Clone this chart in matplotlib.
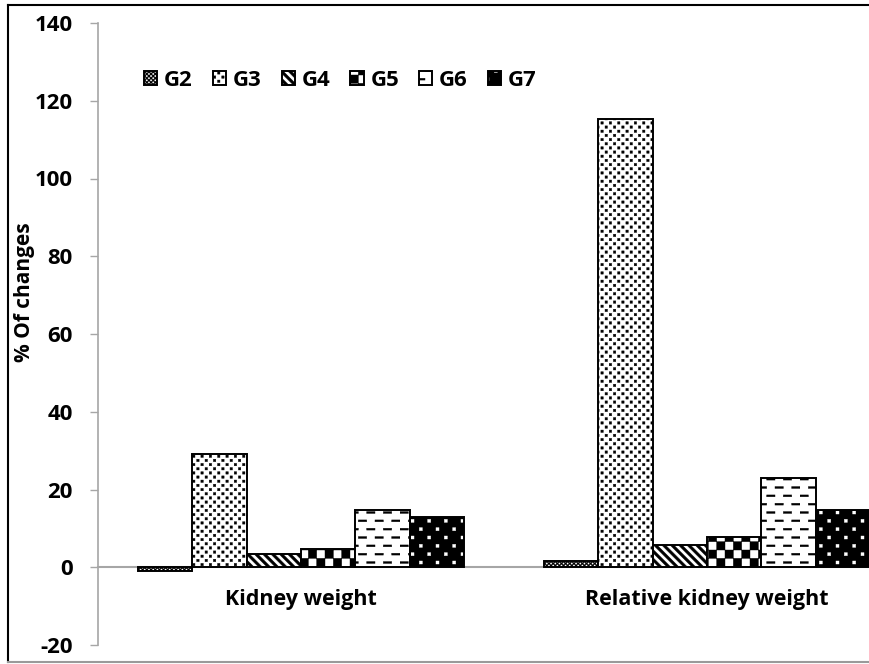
import warnings
import numpy as np
import matplotlib
matplotlib.use("Agg")
import matplotlib.pyplot as plt
import matplotlib.hatch as mhatch
from matplotlib.path import Path
from matplotlib.patches import Patch
from matplotlib.lines import Line2D
from matplotlib.legend_handler import HandlerTuple

warnings.filterwarnings("ignore")

# ---- data -------------------------------------------------------------
categories = ["Kidney weight", "Relative kidney weight"]
groups = ["G2", "G3", "G4", "G5", "G6", "G7"]
g2 = [-1.0, 1.5]
g3 = [29.1, 115.3]
g4 = [3.3, 5.6]
g5 = [4.6, 7.7]
g6 = [14.7, 22.9]
g7 = [12.9, 14.7]
yticks = [-20, 0, 20, 40, 60, 80, 100, 120, 140]


# ---- extra fill patterns (filled shapes in the unit hatch tile) -------
def _quad(vertices, codes, k, pts):
    vertices[k:k + 5] = list(pts) + [pts[0]]
    codes[k:k + 5] = [Path.MOVETO, Path.LINETO, Path.LINETO,
                      Path.LINETO, Path.CLOSEPOLY]
    return k + 5


def _rect(vertices, codes, k, x0, y0, x1, y1):
    return _quad(vertices, codes, k, [(x0, y0), (x1, y0), (x1, y1), (x0, y1)])


class CheckerHatch(mhatch.HatchPatternBase):
    """'k': checkerboard, 12 cells per tile side per letter."""
    def __init__(self, hatch, density):
        self.n = 12 * hatch.count("k")
        self.num_vertices = 5 * (self.n * self.n // 2)

    def set_vertices_and_codes(self, vertices, codes):
        s = 1.0 / self.n
        k = 0
        for i in range(self.n):
            for j in range(self.n):
                if (i + j) % 2 == 0:
                    k = _rect(vertices, codes, k, i * s, j * s,
                              (i + 1) * s, (j + 1) * s)


class DotHatch(mhatch.HatchPatternBase):
    """'d': staggered square dots."""
    def __init__(self, hatch, density):
        c = hatch.count("d")
        self.cols = 6 * c
        self.rows = 2 * self.cols
        self.size = 0.018 + 0.012 / c if c else 0
        self.num_vertices = 5 * self.cols * self.rows

    def set_vertices_and_codes(self, vertices, codes):
        k = 0
        h = self.size / 2
        for r in range(self.rows):
            cy = (r + 0.5) / self.rows
            for i in range(self.cols):
                cx = (i + 0.25 + 0.5 * (r % 2)) / self.cols
                k = _rect(vertices, codes, k, cx - h, cy - h, cx + h, cy + h)


class DashHatch(mhatch.HatchPatternBase):
    """'m': staggered rows of short horizontal dashes."""
    def __init__(self, hatch, density):
        c = hatch.count("m")
        self.rows = 12 * c
        self.per_row = 6 * c
        self.num_vertices = 5 * self.rows * self.per_row

    def set_vertices_and_codes(self, vertices, codes):
        k = 0
        p = 1.0 / self.per_row
        t = 0.009
        for r in range(self.rows):
            cy = (r + 0.5) / self.rows
            off = 0.5 * p * (r % 2)
            for i in range(self.per_row):
                x0 = i * p + off
                k = _rect(vertices, codes, k, x0, cy - t, x0 + 0.5 * p, cy + t)


class StripeHatch(mhatch.HatchPatternBase):
    """'z': thick diagonal stripes running top-left to bottom-right."""
    def __init__(self, hatch, density):
        c = hatch.count("z")
        self.n = 12 * c
        self.num_vertices = 5 * 2 * self.n

    def set_vertices_and_codes(self, vertices, codes):
        k = 0
        w = 0.45 / self.n
        for j in range(2 * self.n):
            x0 = -1.0 + j / self.n
            k = _quad(vertices, codes, k,
                      [(x0, 1.0), (x0 + w, 1.0), (x0 + w + 1.0, 0.0), (x0 + 1.0, 0.0)])


mhatch._hatch_types.extend([CheckerHatch, DotHatch, DashHatch, StripeHatch])

plt.rcParams["hatch.linewidth"] = 0.3
plt.rcParams["font.family"] = ["Open Sans", "DejaVu Sans"]
plt.rcParams["font.weight"] = "bold"
plt.rcParams["axes.unicode_minus"] = False

TICK_FS = 16
CAT_FS = 15.5
YLAB_FS = 15
LEG_FS = 16

# ---- figure -----------------------------------------------------------
W, H = 870, 664
fig = plt.figure(figsize=(W / 100, H / 100), dpi=100)
ax = fig.add_axes([98 / W, 19 / H, 812 / W, 622 / H])

series = [g2, g3, g4, g5, g6, g7]
styles = [
    dict(facecolor="white", edgecolor="black", hatch="kkkk"),
    dict(facecolor="white", edgecolor="black", hatch="dd"),
    dict(facecolor="white", edgecolor="black", hatch="z"),
    dict(facecolor="white", edgecolor="black", hatch="k"),
    dict(facecolor="white", edgecolor="black", hatch="m"),
    dict(facecolor="black", edgecolor="white", hatch="d"),
]

x = np.arange(len(categories))
bw = 0.134
offsets = (np.arange(len(groups)) - (len(groups) - 1) / 2) * bw
edge_lw = 1.4

handles = []
for vals, off, st in zip(series, offsets, styles):
    if st["edgecolor"] == "white":
        ax.bar(x + off, vals, bw, linewidth=0, zorder=2, **st)
        ax.bar(x + off, vals, bw, fill=False, edgecolor="black",
               linewidth=edge_lw, zorder=3)
        handles.append((Patch(linewidth=0, **st),
                        Patch(fill=False, edgecolor="black", linewidth=edge_lw)))
    else:
        ax.bar(x + off, vals, bw, linewidth=edge_lw, zorder=2, **st)
        handles.append(Patch(linewidth=edge_lw, **st))

ax.set_xlim(-0.5, 1.5)
ax.set_ylim(-20, 140)
ax.set_yticks(yticks)

axis_grey = "#a6a6a6"
for s in ("top", "right"):
    ax.spines[s].set_visible(False)
ax.spines["left"].set_color(axis_grey)
ax.spines["left"].set_linewidth(1.2)
ax.spines["bottom"].set_position(("data", 0))
ax.spines["bottom"].set_color(axis_grey)
ax.spines["bottom"].set_linewidth(1.5)
ax.spines["bottom"].set_zorder(1)

ax.tick_params(axis="y", direction="out", length=6, width=1, color=axis_grey,
               pad=12, labelsize=TICK_FS)
ax.set_xticks(x)
ax.set_xticklabels(categories)
ax.tick_params(axis="x", length=0, pad=16, labelsize=CAT_FS)
for lab in ax.get_xticklabels() + ax.get_yticklabels():
    lab.set_fontweight("bold")

fig.text(25 / W, 1 - 292 / H, "% Of changes", rotation=90, ha="center",
         va="center", fontsize=YLAB_FS, fontweight="bold")

leg = ax.legend(handles, groups, ncol=6, frameon=False,
                loc="center left", bbox_to_anchor=((144 - 98) / 812, (645 - 80) / 622),
                handlelength=0.6, handleheight=0.6, handletextpad=0.3,
                columnspacing=0.9, borderaxespad=0, borderpad=0,
                handler_map={tuple: HandlerTuple(ndivide=1)},
                prop=dict(size=LEG_FS, weight="bold"))

# outer frame of the image
fig.add_artist(Line2D([8 / W, 1.0], [1 - 4.5 / H] * 2, color="black", lw=1.5,
                      transform=fig.transFigure))
fig.add_artist(Line2D([8 / W] * 2, [1 - 4.5 / H, 2 / H], color="black", lw=1.5,
                      transform=fig.transFigure))
fig.add_artist(Line2D([8 / W, 1.0], [2 / H] * 2, color="#9a9a9a", lw=1.5,
                      transform=fig.transFigure))

fig.savefig("out.png", dpi=100)
